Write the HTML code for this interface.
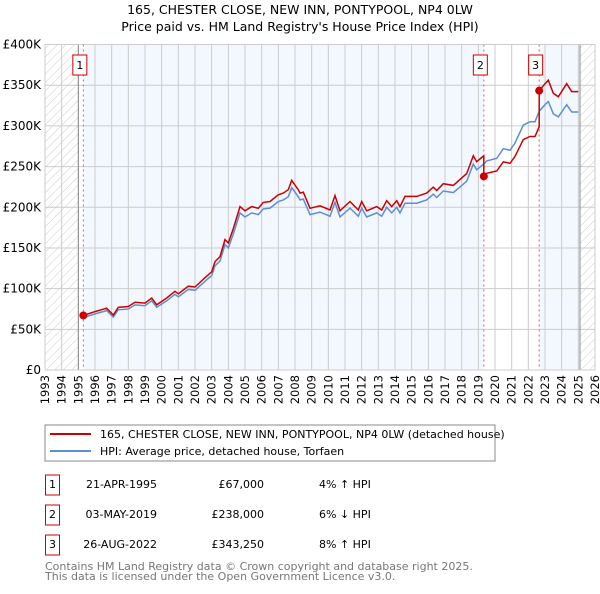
<!DOCTYPE html>
<html><head><meta charset="utf-8"><style>
body{margin:0;background:#fff;font-family:"DejaVu Sans","Liberation Sans",sans-serif}
svg text{font-family:"DejaVu Sans","Liberation Sans",sans-serif}
</style></head><body>
<svg id="c" width="600" height="590" xmlns="http://www.w3.org/2000/svg">
<defs><pattern id="h" width="6" height="6" patternUnits="userSpaceOnUse" patternTransform="rotate(45)"><line x1="0" y1="0" x2="0" y2="6" stroke="#ccc" stroke-width="1"/></pattern></defs>
<text x="300" y="14" text-anchor="middle" font-size="12.5">165, CHESTER CLOSE, NEW INN, PONTYPOOL, NP4 0LW</text>
<text x="300" y="31" text-anchor="middle" font-size="12.5">Price paid vs. HM Land Registry's House Price Index (HPI)</text>
<g id="plot"></g>
<rect x="45" y="425" width="450" height="36" fill="#fff" stroke="#888"/>
<line x1="50" y1="434" x2="91" y2="434" stroke="#cc0000" stroke-width="2"/>
<text x="100" y="438" font-size="11">165, CHESTER CLOSE, NEW INN, PONTYPOOL, NP4 0LW (detached house)</text>
<line x1="50" y1="451" x2="91" y2="451" stroke="#5b8fd4" stroke-width="2"/>
<text x="100" y="455" font-size="11">HPI: Average price, detached house, Torfaen</text>
<g id="tbl" font-size="11"></g>
<text x="45" y="570" font-size="11" fill="#777">Contains HM Land Registry data © Crown copyright and database right 2025.</text>
<text x="45" y="580" font-size="11" fill="#777">This data is licensed under the Open Government Licence v3.0.</text>
</svg>
<script>
const years=[1995.3,1996,1996.7,1997.1,1997.4,1998,1998.4,1999,1999.4,1999.7,2000.3,2000.8,2001,2001.6,2002,2002.6,2003,2003.2,2003.5,2003.8,2004,2004.3,2004.7,2005,2005.4,2005.8,2006.1,2006.5,2007,2007.3,2007.6,2007.8,2008.2,2008.3,2008.5,2008.9,2009.5,2010.1,2010.4,2010.7,2011.3,2011.8,2012,2012.3,2012.9,2013.2,2013.5,2013.8,2014.1,2014.3,2014.6,2015.3,2015.9,2016.3,2016.5,2016.9,2017.5,2017.9,2018.3,2018.7,2018.9,2019.2,2019.33,2019.5,2020.1,2020.5,2020.9,2021.2,2021.7,2022.1,2022.4,2022.65,2023,2023.2,2023.5,2023.8,2024.3,2024.6,2025];
const hpi=[64.4,69,73,65,74,75,80,79,85,77,85,93,90,99,98,109,116,128,134,154,150,167,193,188,193,191,198,199,207,209,213,224,213,209,210,191,194,189,206,188,199,189,199,188,193,189,200,193,200,193,205,205,209,216,212,220,218,225,232,253,246,251,253,257,260,272,270,279,301,305,305,318,326,330,315,311,326,317,317];
const saleYears=[1995.3,2019.33,2022.65];
const salePrices=[67,238,343.25];
const saleLabels=['1','2','3'];
const saleDates=['21-APR-1995','03-MAY-2019','26-AUG-2022'];
const salePriceText=['£67,000','£238,000','£343,250'];
const saleHpiText=['4% ↑ HPI','6% ↓ HPI','8% ↑ HPI'];
const yTicks=[0,50,100,150,200,250,300,350,400];
const yTickLabels=['£0','£50K','£100K','£150K','£200K','£250K','£300K','£350K','£400K'];

const X0=45,X1=595,Y0=370,Y1=44.5;
const x=y=>X0+(y-1993)*(X1-X0)/33;
const yv=v=>Y0-v*(Y0-Y1)/400;
const NS='http://www.w3.org/2000/svg';
const plot=document.getElementById('plot');
function mk(t,a,p){const e=document.createElementNS(NS,t);for(const k in a)e.setAttribute(k,a[k]);(p||plot).appendChild(e);return e;}
const hv=yr=>{for(let i=1;i<years.length;i++)if(years[i]>=yr){const f=(yr-years[i-1])/(years[i]-years[i-1]);return hpi[i-1]+f*(hpi[i]-hpi[i-1]);}return hpi[hpi.length-1];};
let e=mk('rect',{x:X0,y:Y1,width:X1-X0,height:Y0-Y1,fill:'#fff'});


e=mk('rect',{x:x(saleYears[0]),y:Y1,width:x(saleYears[1])-x(saleYears[0]),height:Y0-Y1,fill:'#f3f7fe'});


e=mk('rect',{x:x(saleYears[2]),y:Y1,width:x(2025.1)-x(saleYears[2]),height:Y0-Y1,fill:'#f3f7fe'});


e=mk('rect',{x:X0,y:Y1,width:x(1995)-X0,height:Y0-Y1,fill:'url(#h)'});


e=mk('rect',{x:x(2025.1),y:Y1,width:X1-x(2025.1),height:Y0-Y1,fill:'url(#h)'});


for(let i=0;i<yTicks.length;i++){
 e=mk('line',{x1:X0,x2:X1,y1:yv(yTicks[i]),y2:yv(yTicks[i]),stroke:'#ccc'});
 
 
 e=mk('text',{x:X0-4,y:yv(yTicks[i])+4,'text-anchor':'end','font-size':'12'});e.textContent=yTickLabels[i];
 
 
}
for(let yr=1993;yr<=2026;yr++){
 e=mk('line',{x1:x(yr),x2:x(yr),y1:Y1,y2:Y0,stroke:'#ccc'});
 
 
 const tx=x(yr)+4,ty=Y0+5;
 e=mk('text',{x:tx,y:ty,'text-anchor':'end','font-size':'11.5',transform:`rotate(-90 ${tx} ${ty})`});e.textContent=yr;
 
 
}
e=mk('line',{x1:x(1995),x2:x(1995),y1:Y1,y2:Y0,stroke:'#888'});


e=mk('line',{x1:x(2025.1),x2:x(2025.1),y1:Y1,y2:Y0,stroke:'#888'});


for(let i=0;i<saleYears.length;i++){
 e=mk('line',{x1:x(saleYears[i]),x2:x(saleYears[i]),y1:Y1,y2:Y0,stroke:'#e06060','stroke-dasharray':'2,3'});
 
 
}
let d=years.map((yr,i)=>(i?'L':'M')+x(yr).toFixed(1)+','+yv(hpi[i]).toFixed(1)).join('');
e=mk('path',{d:d,fill:'none',stroke:'#5b8fd4','stroke-width':1.5});


const ratios=saleYears.map((s,i)=>salePrices[i]/hv(s));
let pd='';
for(let i=0;i<years.length;i++){
 let k=0;for(let j=0;j<saleYears.length;j++)if(years[i]>=saleYears[j]-1e-6)k=j;
 const v=hpi[i]*ratios[k];
 if(i>0&&k>0&&years[i-1]<saleYears[k]-1e-6)pd+='L'+x(saleYears[k]).toFixed(1)+','+yv(hv(saleYears[k])*ratios[k-1]).toFixed(1);
 pd+=(i?'L':'M')+x(years[i]).toFixed(1)+','+yv(v).toFixed(1);
}
e=mk('path',{d:pd,fill:'none',stroke:'#cc0000','stroke-width':1.5});


for(let i=0;i<saleYears.length;i++){
 e=mk('circle',{cx:x(saleYears[i]),cy:yv(salePrices[i]),r:4,fill:'#cc0000'});
 
 
 const bx=x(saleYears[i])-3.5;
 e=mk('rect',{x:bx-7,y:55,width:14,height:20,fill:'#fff',stroke:'#cc0000'});
 
 
 e=mk('text',{x:bx,y:69,'text-anchor':'middle','font-size':'11'});e.textContent=saleLabels[i];
 
 
}
e=mk('rect',{x:X0,y:Y1,width:X1-X0,height:Y0-Y1,fill:'none',stroke:'#ccc'});


const tbl=document.getElementById('tbl');
for(let i=0;i<saleYears.length;i++){
 const cy=483+i*30;
 e=mk('rect',{x:45.5,y:cy-8,width:14,height:20,fill:'#fff',stroke:'#cc0000'},tbl);
 
 
 e=mk('text',{x:52.5,y:cy+5,'text-anchor':'middle'},tbl);e.textContent=saleLabels[i];
 
 
 e=mk('text',{x:157,y:cy+5,'text-anchor':'end'},tbl);e.textContent=saleDates[i];
 
 
 e=mk('text',{x:264,y:cy+5,'text-anchor':'end'},tbl);e.textContent=salePriceText[i];
 
 
 e=mk('text',{x:319,y:cy+5},tbl);e.textContent=saleHpiText[i];
 
 
}
</script>
</body></html>
